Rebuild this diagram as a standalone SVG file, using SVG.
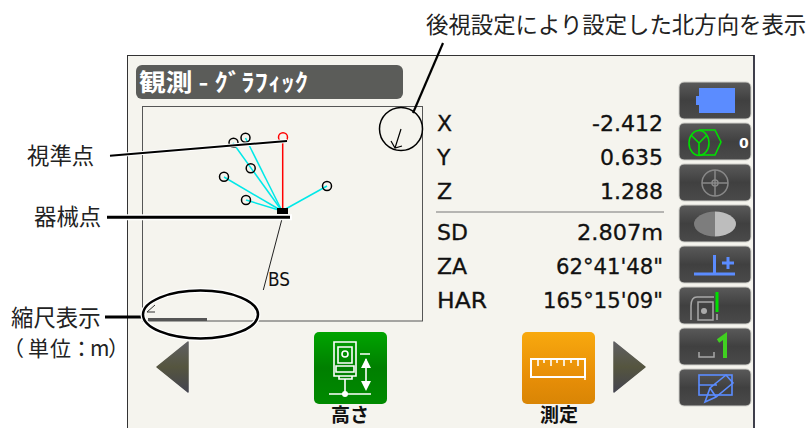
<svg xmlns="http://www.w3.org/2000/svg" width="812" height="428" viewBox="0 0 812 428">
<style>
.lb{font-family:"Noto Sans CJK JP","Noto Sans",sans-serif;font-size:22.4px;fill:#222}
.d{font-family:"DejaVu Sans","Liberation Sans",sans-serif;font-size:22px;fill:#111;stroke:#111;stroke-width:.3}
.e{text-anchor:end}
.btn{fill:url(#gb);stroke:#cfcfca;stroke-width:1}
.pt{fill:none;stroke:#000;stroke-width:1.5}
.cy{stroke:#00e8e8;stroke-width:1.5;fill:none}
.lead{stroke:#000;fill:none}
.halo{stroke:#fff;fill:none}
.ic{fill:none;stroke:#5b8cff;stroke-width:2}
.gr{fill:none;stroke:#a8a8a8;stroke-width:1.5}
.gn{fill:none;stroke:#00e000;stroke-width:1.6}
.w{fill:none;stroke:#fff;stroke-width:1.6}
.bl{font-family:"Noto Sans CJK JP",sans-serif;font-size:19px;font-weight:700;fill:#111;text-anchor:middle}
</style>
<defs>
<linearGradient id="gb" x1="0" y1="0" x2="0" y2="1"><stop offset="0" stop-color="#5a5a5a"/><stop offset=".5" stop-color="#404040"/><stop offset="1" stop-color="#4a4a4a"/></linearGradient>
<linearGradient id="gg" x1="0" y1="0" x2="0" y2="1"><stop offset="0" stop-color="#00a400"/><stop offset=".5" stop-color="#007f00"/><stop offset="1" stop-color="#008a00"/></linearGradient>
<linearGradient id="go" x1="0" y1="0" x2="0" y2="1"><stop offset="0" stop-color="#f8a90e"/><stop offset=".6" stop-color="#e88f08"/><stop offset="1" stop-color="#d98505"/></linearGradient>
<linearGradient id="ga" x1="0" y1="0" x2="0" y2="1"><stop offset="0" stop-color="#5f5f62"/><stop offset=".5" stop-color="#55553f"/><stop offset="1" stop-color="#44444f"/></linearGradient>
</defs>
<rect width="812" height="428" fill="#fff"/>
<g id="screen">
<rect x="127.5" y="55.5" width="626.5" height="380" fill="#f5f4ee" stroke="#333" stroke-width="1"/>
<line x1="754" y1="55" x2="754" y2="428" stroke="#223" stroke-width="1.5"/>
<rect x="136" y="65" width="267" height="34" rx="6" fill="#5b5c59"/>
<text x="139" y="91" textLength="169" lengthAdjust="spacingAndGlyphs" style="font-family:'Noto Sans CJK JP',sans-serif;font-size:24px;font-weight:700;fill:#fff">観測 - ｸﾞﾗﾌｨｯｸ</text>
<rect x="142.5" y="106.5" width="280" height="214.5" fill="none" stroke="#555" stroke-width="1"/>
</g>
<g id="plot">
<line x1="282" y1="211" x2="245.500" y2="138" class="cy"/>
<line x1="282" y1="211" x2="233" y2="143" class="cy"/>
<line x1="282" y1="211" x2="224" y2="177" class="cy"/>
<line x1="282" y1="211" x2="246" y2="200" class="cy"/>
<line x1="282" y1="211" x2="327" y2="186" class="cy"/>
<line x1="282.700" y1="211" x2="282.700" y2="141" stroke="#f00" stroke-width="1.5"/>
<circle cx="245.500" cy="137.700" r="4.500" class="pt"/>
<circle cx="233.500" cy="142.700" r="4.500" class="pt"/>
<circle cx="283" cy="137.300" r="4.500" fill="none" stroke="#f00" stroke-width="1.5"/>
<circle cx="250.700" cy="168.300" r="4.500" class="pt"/>
<circle cx="224" cy="176.700" r="4.500" class="pt"/>
<circle cx="327" cy="186" r="4.500" class="pt"/>
<circle cx="246" cy="200" r="4.500" class="pt"/>
<rect x="277" y="208" width="11" height="6" fill="#000"/>
<line x1="281.700" y1="220" x2="263.300" y2="290" stroke="#222" stroke-width="1"/>
<text x="268" y="286" style="font-family:'DejaVu Sans','Liberation Sans',sans-serif;font-size:19px;fill:#111" textLength="22" lengthAdjust="spacingAndGlyphs">BS</text>
<rect x="148" y="318" width="59" height="3" fill="#555"/>
<path d="M155 305L147 312H155" fill="none" stroke="#333" stroke-width="1"/>
</g>
<g id="data">
<text x="437" y="131" class="d">X</text><text x="663" y="131" class="d e">-2.412</text>
<text x="437" y="165" class="d">Y</text><text x="663" y="165" class="d e">0.635</text>
<text x="437" y="199" class="d">Z</text><text x="663" y="199" class="d e">1.288</text>
<line x1="436" y1="212" x2="664" y2="212" stroke="#777" stroke-width="1"/>
<text x="437" y="240" class="d">SD</text><text x="663" y="240" class="d e" textLength="86" lengthAdjust="spacingAndGlyphs">2.807m</text>
<text x="437" y="274" class="d">ZA</text><text x="663" y="274" class="d e" textLength="107" lengthAdjust="spacingAndGlyphs">62°41'48"</text>
<text x="437" y="308" class="d" textLength="50" lengthAdjust="spacingAndGlyphs">HAR</text><text x="663" y="308" class="d e" textLength="120" lengthAdjust="spacingAndGlyphs">165°15'09"</text>
</g>
<g id="side-battery">
<rect x="679" y="82" width="72" height="37" rx="5" class="btn"/>
<path d="M699 88H735V113H699V105H696V96H699Z" fill="#5b8cff"/>
</g>
<g id="side-prism">
<rect x="679" y="123" width="72" height="37" rx="5" class="btn"/>
<ellipse cx="699" cy="143" rx="10" ry="12.500" class="gn"/>
<path d="M699 143V155M699 143L691 135M699 143L707 135M699 130H715L721 142L715 155H699" class="gn"/>
<text x="739" y="148" style="font-family:'DejaVu Sans','Liberation Sans',sans-serif;font-size:14px;font-weight:700;fill:#fff">0</text>
</g>
<g id="side-crosshair">
<rect x="679" y="164" width="72" height="37" rx="5" class="btn"/>
<circle cx="715" cy="183" r="13" fill="none" stroke="#888" stroke-width="1.500"/>
<path d="M715 170V196M702 183H728" fill="none" stroke="#888" stroke-width="1.500"/>
<circle cx="715" cy="183" r="3" fill="none" stroke="#888" stroke-width="1.500"/>
</g>
<g id="side-disc">
<rect x="679" y="205" width="72" height="37" rx="5" class="btn"/>
<path d="M715 211.500A21 12.500 0 0 0 715 236.500Z" fill="#7d7d7d"/>
<path d="M715 211.500A21 12.500 0 0 1 715 236.500Z" fill="#bdbdbd"/>
</g>
<g id="side-offset">
<rect x="679" y="246" width="72" height="37" rx="5" class="btn"/>
<path d="M694 274H735M714.500 274V255" class="ic" style="stroke-width:3"/>
<path d="M728 257V269M722 263H734" class="ic" style="stroke-width:3"/>
</g>
<g id="side-target">
<rect x="679" y="287" width="72" height="37" rx="5" class="btn"/>
<path d="M691 320V306Q691 297 697 297H714" class="gr"/>
<rect x="698" y="302" width="15" height="18" class="gr"/>
<circle cx="704" cy="311" r="3" fill="#aaa"/>
<line x1="717" y1="292" x2="717" y2="312" stroke="#00e000" stroke-width="3"/>
<line x1="717" y1="314" x2="717" y2="320" stroke="#aaa" stroke-width="1.500"/>
</g>
<g id="side-space">
<rect x="679" y="328" width="72" height="37" rx="5" class="btn"/>
<path d="M699 352V357H714V352" class="gr"/>
<path d="M718 341L725 336V358" fill="none" stroke="#40d020" stroke-width="4"/>
</g>
<g id="side-edit">
<rect x="679" y="369" width="72" height="37" rx="5" class="btn"/>
<rect x="699" y="375" width="33" height="20" class="ic" style="stroke-width:1.600"/>
<path d="M699 385H717M705 402L710 388L726 375L733 383L716 397ZM710 388L716 397" class="ic" style="stroke-width:1.600"/>
</g>
<g id="btn-height">
<rect x="314" y="332" width="73" height="72" rx="5" fill="url(#gg)"/>
<path d="M334 342H356V376H334ZM338 347H352V363H338ZM336 366H354V372H336ZM339 376V379H352V376" class="w"/>
<circle cx="345" cy="354" r="3" class="w"/>
<path d="M345 379V394M329 394H371M360 354H370" class="w"/>
<circle cx="345" cy="394" r="3" fill="#fff"/>
<path d="M366 359V388" class="w"/>
<path d="M361 368L366 358L371 368ZM361 381L366 391L371 381Z" fill="#fff"/>
<text x="350" y="422" class="bl">高さ</text>
</g>
<g id="btn-measure">
<rect x="522" y="332" width="73" height="72" rx="5" fill="url(#go)"/>
<path d="M531 359H585V377H531Z" fill="none" stroke="#fff" stroke-width="2"/>
<path d="M538 359V366M544 359V363M551 359V366M557 359V363M564 359V366M571 359V363M578 359V366M585 377V380" stroke="#fff" stroke-width="1.600" fill="none"/>
<text x="559" y="422" class="bl">測定</text>
</g>
<g id="nav-left"><path d="M188 342V392L157 367Z" fill="url(#ga)" stroke="url(#ga)" stroke-width="1.500" stroke-linejoin="round"/></g>
<g id="nav-right"><path d="M614 342V392L645 367Z" fill="url(#ga)" stroke="url(#ga)" stroke-width="1.500" stroke-linejoin="round"/></g>
<g id="connectors">
<path d="M110 155.700L287 141" class="halo" stroke-width="4"/>
<path d="M110 155.700L287 141" class="lead" stroke-width="2"/>
<path d="M107 217.300H292" class="halo" stroke-width="6"/>
<path d="M107 217.300H290" class="lead" stroke-width="3"/>
<path d="M105 317H144" class="lead" stroke-width="3"/>
<ellipse cx="200.500" cy="314.500" rx="57.500" ry="24" class="halo" stroke-width="5"/>
<ellipse cx="200.500" cy="314.500" rx="57.500" ry="24" class="lead" stroke-width="2.500"/>
<circle cx="401" cy="129" r="21.500" class="lead" stroke-width="1.500"/>
<path d="M401 129L395 148M391 141L395 148L402 146" class="lead" stroke-width="1.200"/>
<path d="M413 113L443 43" class="lead" stroke-width="2.200"/>
</g>
<g id="labels">
<text x="426" y="33" class="lb">後視設定により設定した北方向を表示</text>
<text x="27" y="164" class="lb">視準点</text>
<text x="34" y="225" class="lb">器械点</text>
<text x="11" y="326" class="lb">縮尺表示</text>
<text x="3 28 50 71 90 108" y="356" class="lb" style="font-size:21px">（単位：m）</text>
</g>
</svg>
